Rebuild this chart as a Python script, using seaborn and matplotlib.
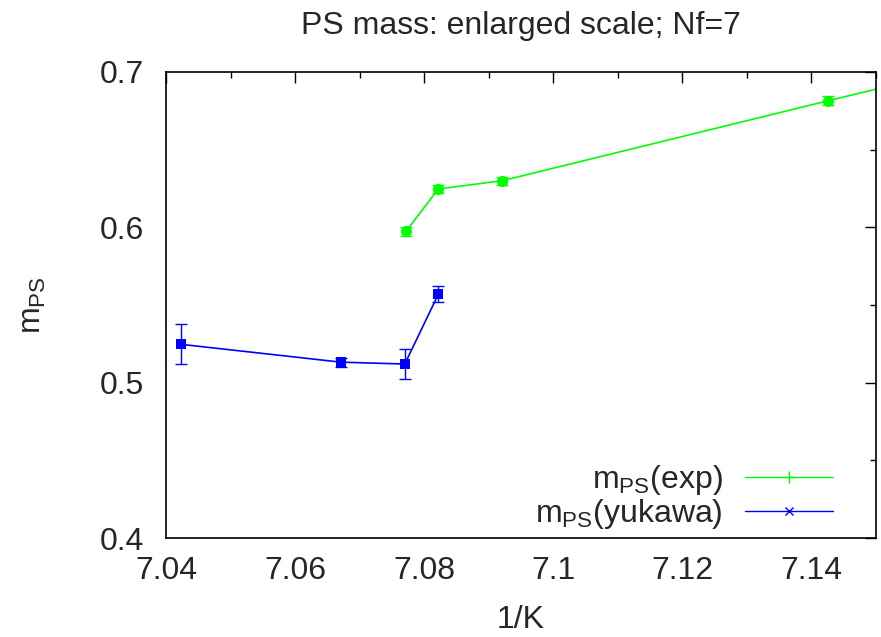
import matplotlib
matplotlib.use('Agg')
import matplotlib.pyplot as plt
from matplotlib.lines import Line2D
from matplotlib.ticker import MultipleLocator
import seaborn as sns
import pandas as pd

# m_PS from exponential fit (last point lies just outside the shown range)
exp_k = [7.0772, 7.0822, 7.0921, 7.1426, 7.17]
exp_m = [0.5975, 0.6247, 0.6300, 0.6815, 0.709]
exp_err = [0.003, 0.0025, 0.0025, 0.003, 0.003]

# m_PS from yukawa fit
yuk_k = [7.0423, 7.0671, 7.0770, 7.0822]
yuk_m = [0.5247, 0.5132, 0.5120, 0.5570]
yuk_err = [0.013, 0.003, 0.0097, 0.005]

df_exp = pd.DataFrame({'k': exp_k, 'm': exp_m})
df_yuk = pd.DataFrame({'k': yuk_k, 'm': yuk_m})

sns.set_style('white')
plt.rcParams['font.family'] = ['Liberation Sans', 'DejaVu Sans']
plt.rcParams['mathtext.fontset'] = 'custom'
plt.rcParams['mathtext.rm'] = 'Liberation Sans'

fig = plt.figure(figsize=(8.81, 6.37), dpi=100)
ax = fig.add_axes([0.1884, 0.1554, 0.8059, 0.7316])

green = '#00ff00'
blue = '#0000ff'
fs = 23

sns.lineplot(data=df_exp, x='k', y='m', ax=ax, color=green, lw=1.2,
             marker='o', markersize=8, markeredgewidth=0, sort=False)
ax.errorbar(exp_k, exp_m, yerr=exp_err, fmt='none', ecolor=green,
            elinewidth=1, capsize=4)

sns.lineplot(data=df_yuk, x='k', y='m', ax=ax, color=blue, lw=1.2,
             marker='s', markersize=7, markeredgewidth=0, sort=False)
ax.errorbar(yuk_k, yuk_m, yerr=yuk_err, fmt='none', ecolor=blue,
            elinewidth=1, capsize=4)

ax.set_xlim(7.04, 7.15)
ax.set_ylim(0.4, 0.7)
ax.xaxis.set_minor_locator(MultipleLocator(0.01))
ax.yaxis.set_minor_locator(MultipleLocator(0.05))
ax.set_xticks([7.04, 7.06, 7.08, 7.1, 7.12, 7.14])
ax.set_xticklabels(['7.04', '7.06', '7.08', '7.1', '7.12', '7.14'])
ax.set_yticks([0.4, 0.5, 0.6, 0.7])
ax.set_yticklabels(['0.4', '0.5', '0.6', '0.7'])

ax.tick_params(which='both', direction='in', top=True, right=True,
               labelsize=fs, width=1, color='black')
ax.tick_params(axis='x', pad=13)
ax.tick_params(axis='y', pad=16)
ax.tick_params(which='major', length=8)
ax.tick_params(which='minor', length=4)
for s in ax.spines.values():
    s.set_color('black')
    s.set_linewidth(1.2)

ax.set_title('PS mass: enlarged scale; Nf=7', fontsize=fs, pad=27)
ax.set_xlabel('1/K', fontsize=fs)
ax.xaxis.set_label_coords(0.5, -0.143)
ax.set_ylabel(r'm$_{\mathrm{PS}}$', fontsize=fs)
ax.yaxis.set_label_coords(-0.166, 0.5)

handles = [Line2D([], [], color=green, lw=1, marker='+', markersize=8),
           Line2D([], [], color=blue, lw=1, marker='x', markersize=6)]
labels = [r'm$_{\mathrm{PS}}$(exp)', r'm$_{\mathrm{PS}}$(yukawa)']
ax.legend(handles, labels, loc='lower right', bbox_to_anchor=(0.9394, 0.015),
          frameon=False, markerfirst=False, fontsize=fs, handlelength=2.75,
          labelspacing=0.0, handletextpad=0.7, borderpad=0, borderaxespad=0)

fig.savefig('out.png', dpi=100)
